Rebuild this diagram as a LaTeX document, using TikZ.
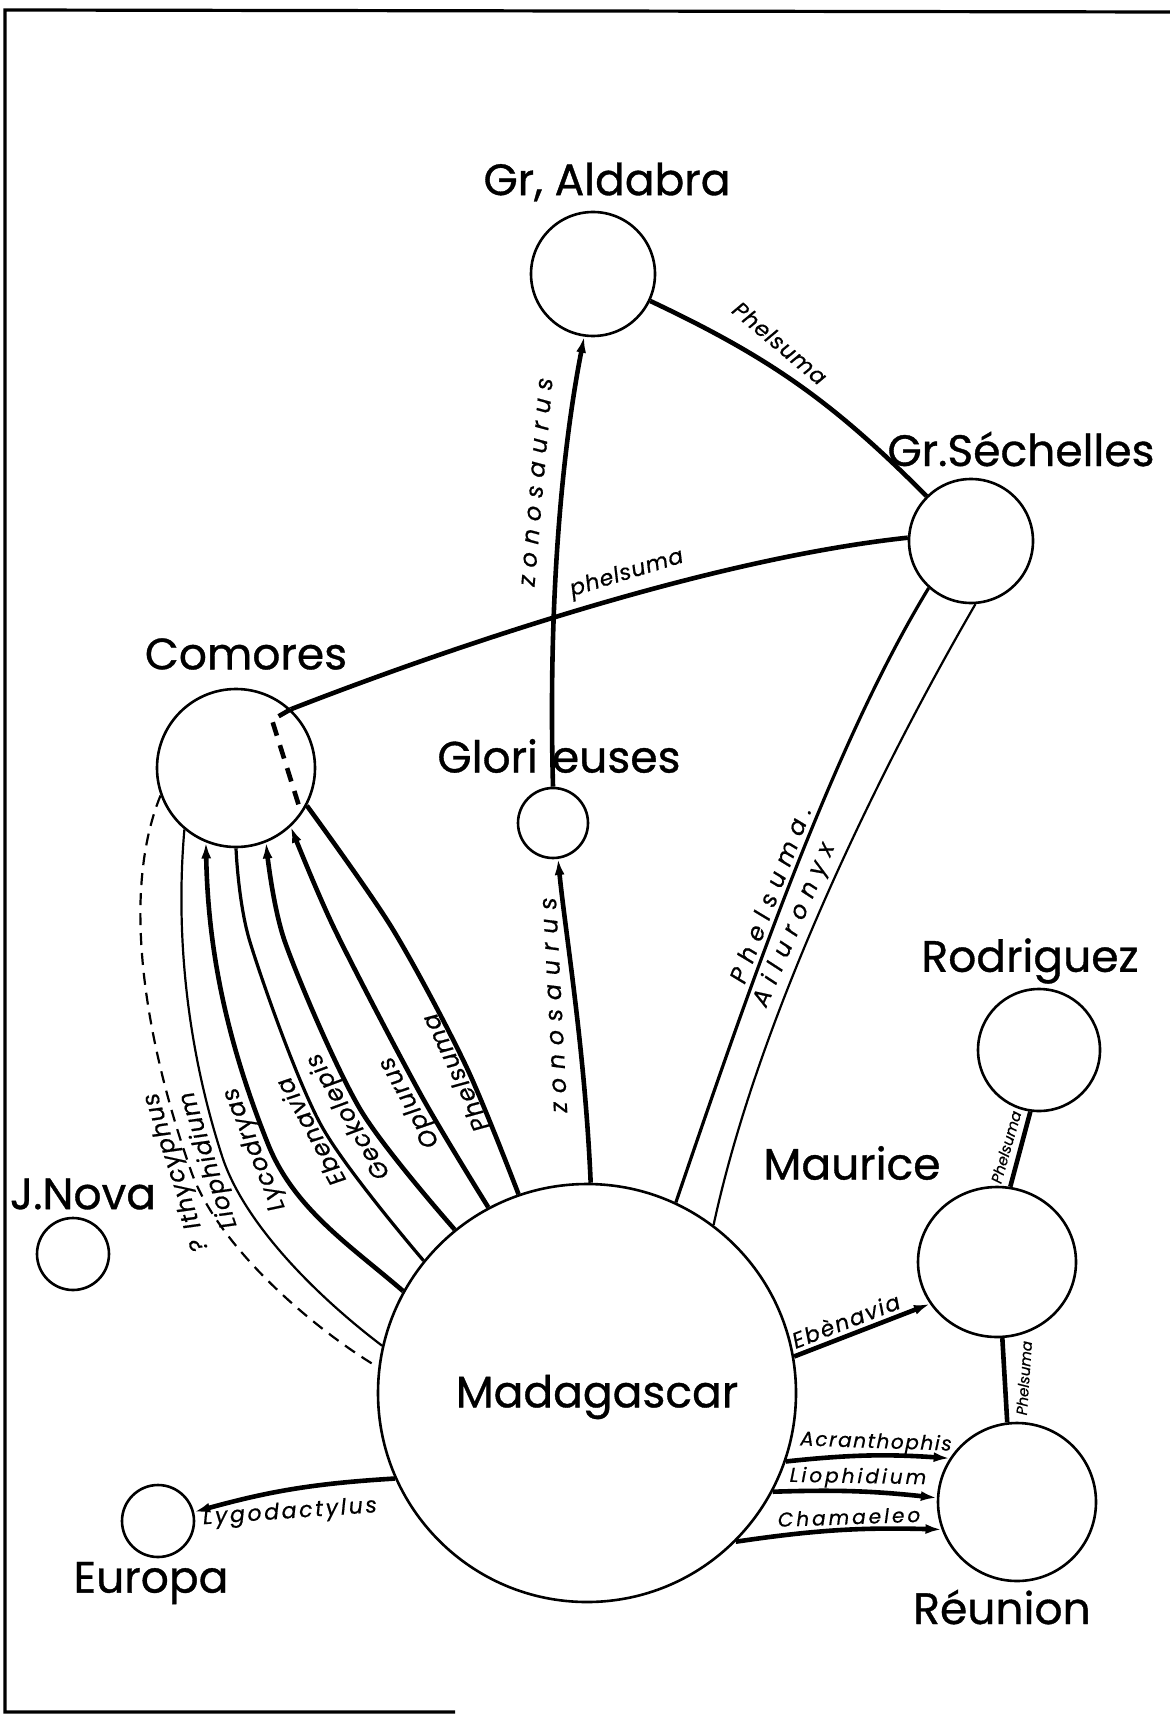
\documentclass[tikz,border=0pt]{standalone}
\usepackage{fontspec}
\setmainfont{Poppins}
\usetikzlibrary{arrows.meta,shapes.geometric}
\newcommand\lsp[2]{{\addfontfeature{LetterSpace=#1}#2}}
\tikzset{
  isl/.style={circle, draw, line width=1.3pt, inner sep=0pt},
  isllab/.style={font=\fontsize{22}{26}\selectfont\addfontfeature{FakeBold=0.8}, inner sep=0pt},
  tax/.style={font=\fontsize{12}{14}\selectfont\itshape\addfontfeature{FakeBold=0.6}, inner sep=1pt},
  taxm/.style={font=\fontsize{11}{13}\selectfont\itshape\addfontfeature{FakeBold=0.6}, inner sep=1pt},
  taxr/.style={font=\fontsize{10}{12}\selectfont\itshape\addfontfeature{FakeBold=0.6}, inner sep=1pt},
  taxs/.style={font=\fontsize{7.5}{9}\selectfont\itshape\addfontfeature{FakeBold=0.5}, inner sep=0.5pt},
  thk/.style={line width=2.3pt},
  med/.style={line width=1.6pt},
  thn/.style={line width=1.1pt},
  arr/.style={-{Latex[length=8pt,width=5pt]}},
}
\begin{document}
\begin{tikzpicture}[x=0.5pt,y=-0.5pt]
\useasboundingbox (0,0) rectangle (1170,1717);
% frame
\draw[line width=1.6pt] (1170,12) -- (5,10) -- (5,1712) -- (455,1712);
% islands
\node[isl, minimum size=62pt] (ald) at (593,274) {};
\node[isl, minimum size=62pt] (sec) at (971,541) {};
\node[isl, minimum size=79pt] (com) at (236,768) {};
\node[isl, minimum size=35pt] (glo) at (553,823) {};
\node[isl, minimum size=61pt] (rod) at (1039,1050) {};
\node[draw, ellipse, line width=1.3pt, inner sep=0pt, minimum width=79pt, minimum height=75pt] (mau) at (997,1262) {};
\node[isl, minimum size=79pt] (reu) at (1017,1502) {};
\node[isl, minimum size=209pt] (mad) at (587,1393) {};
\node[isl, minimum size=36pt] (jno) at (73,1254) {};
\node[isl, minimum size=36pt] (eur) at (158,1521) {};
% island names
\node[isllab] (tald) at (607,182) {Gr, Aldabra};
\node[isllab] (tsec) at (1021,449) {Gr.Séchelles};
\node[isllab] (tcom) at (246,654) {Comores};
\node[isllab] (tglo) at (559,756) {Glori\hspace{7pt}euses};
\node[isllab] (trod) at (1030,961) {Rodriguez};
\node[isllab] (tmau) at (852,1163) {Maurice};
\node[isllab] (treu) at (1002,1607) {Réunion};
\node[isllab] (tmad) at (597,1397) {Madagascar};
\node[isllab] (tjno) at (83,1194) {J.Nova};
\node[isllab] (teur) at (151,1583) {Europa};
% Aldabra - Sechelles
\draw[thk] (ald) to[bend left=10] (sec);
\node[taxm, rotate=-40] (lph1) at (780,343) {\lsp{4}{Phelsuma}};
% Comores - Sechelles
\draw[thk] (com.47) .. controls (430,655) and (700,560) .. (sec.177);
\draw[thk, dash pattern=on 7pt off 5pt] (com.47) -- (272,720) -- (299,806);
\node[taxm, rotate=17] (lph2) at (627,574) {\lsp{4}{phelsuma}};
% zonosaurus
\draw[thk, arr] (glo.north) .. controls (548,600) and (562,450) .. (ald.-98);
\node[tax, rotate=85] (lz1) at (537,482) {\lsp{33}{zonosaurus}};
\draw[thk, arr] (mad.89) .. controls (585,1050) and (565,930) .. (glo.-82);
\node[tax, rotate=93] (lz2) at (555,1005) {\lsp{36}{zonosaurus}};
% Madagascar - Sechelles
\draw[med] (mad.65) .. controls (745,1000) and (830,750) .. (sec.-132)
  node[tax, pos=0.47, sloped, above=1pt] (lph3) {\lsp{33}{Phelsuma.}};
\draw[thn] (mad.53) .. controls (760,1010) and (885,760) .. (sec.-86)
  node[tax, pos=0.44, sloped, above=1pt] (lail) {\lsp{35}{Ailuronyx}};
% Madagascar - Comores bundle
\coordinate (p1) at (190,1168);
\coordinate (p2) at (222,1156);
\coordinate (p3) at (268,1144);
\draw[thn, dash pattern=on 6pt off 4pt] (com.200) .. controls (118,900) and (150,1054) .. (p1)
  .. controls (215,1244) and (311,1327) .. (mad.173);
\node[tax, rotate=108] (lith) at (177,1172) {\lsp{5}{? Ithycyphus}};
\draw[thn] (com.230) .. controls (175,938) and (188,1051) .. (p2)
  .. controls (245,1227) and (323,1301) .. (mad.167);
\node[tax, rotate=108] (llio) at (209,1160) {\lsp{5}{Liophidium}};
\draw[thk, arr] (mad.151) .. controls (351,1246) and (294,1209) .. (p3)
  .. controls (227,1042) and (208,951) .. (com.248);
\node[tax, rotate=112] (llyc) at (255,1149) {\lsp{5}{Lycodryas}};
\draw[med] plot[smooth] coordinates {(mad.141) (321,1125) (250,942) (com.270)};
\node[tax, rotate=118.7] (lebe) at (310,1132) {\lsp{5}{Ebenavia}};
\draw[thk, arr] plot[smooth] coordinates {(mad.129) (360,1109) (285,942) (com.292)};
\node[tax, rotate=120.5] (lgec) at (349,1116) {\lsp{5}{Geckolepis}};
\draw[thk, arr] plot[smooth] coordinates {(mad.118) (421,1095) (335,930) (com.313)};
\node[tax, rotate=119] (lopl) at (410,1102) {\lsp{5}{Oplurus}};
\draw[thk] plot[smooth] coordinates {(mad.109) (466,1066) (392,928) (com.332)};
\node[tax, rotate=115.4] (lph6) at (455,1073) {\lsp{5}{Phelsuma}};
% Madagascar - Maurice
\draw[thk, arr] (mad.10) -- node[taxm, pos=0.42, sloped, above=1pt] (leb2) {\lsp{8}{Ebènavia}} (mau.-148);
% Madagascar - Reunion
\draw[thk, arr] (mad.-19) to[bend left=5] (reu.147);
\node[taxr, rotate=-2] (lacr) at (876,1443) {\lsp{8}{Acranthophis}};
\draw[thk, arr] (mad.-28) to[bend left=4] (reu.177);
\node[taxr, rotate=-1] (llio2) at (858,1478) {\lsp{15}{Liophidium}};
\draw[thk, arr] (mad.-45) to[bend left=5] (reu.-160);
\node[taxr, rotate=2] (lcha) at (849,1517) {\lsp{15}{Chamaeleo}};
% Madagascar - Europa
\draw[thk, arr] (mad.204) to[bend right=6] (eur.14);
\node[taxm, rotate=4] (llyg) at (290,1513) {\lsp{12}{Lygodactylus}};
% Rodriguez - Maurice - Reunion
\draw[thk] (mau.80) -- (rod.-98);
\node[taxs, rotate=74] (lph4) at (1006,1147) {Phelsuma};
\draw[thk] (mau.-86) -- (reu.97);
\node[taxs, rotate=86] (lph5) at (1024,1378) {Phelsuma};
\end{tikzpicture}
\end{document}
